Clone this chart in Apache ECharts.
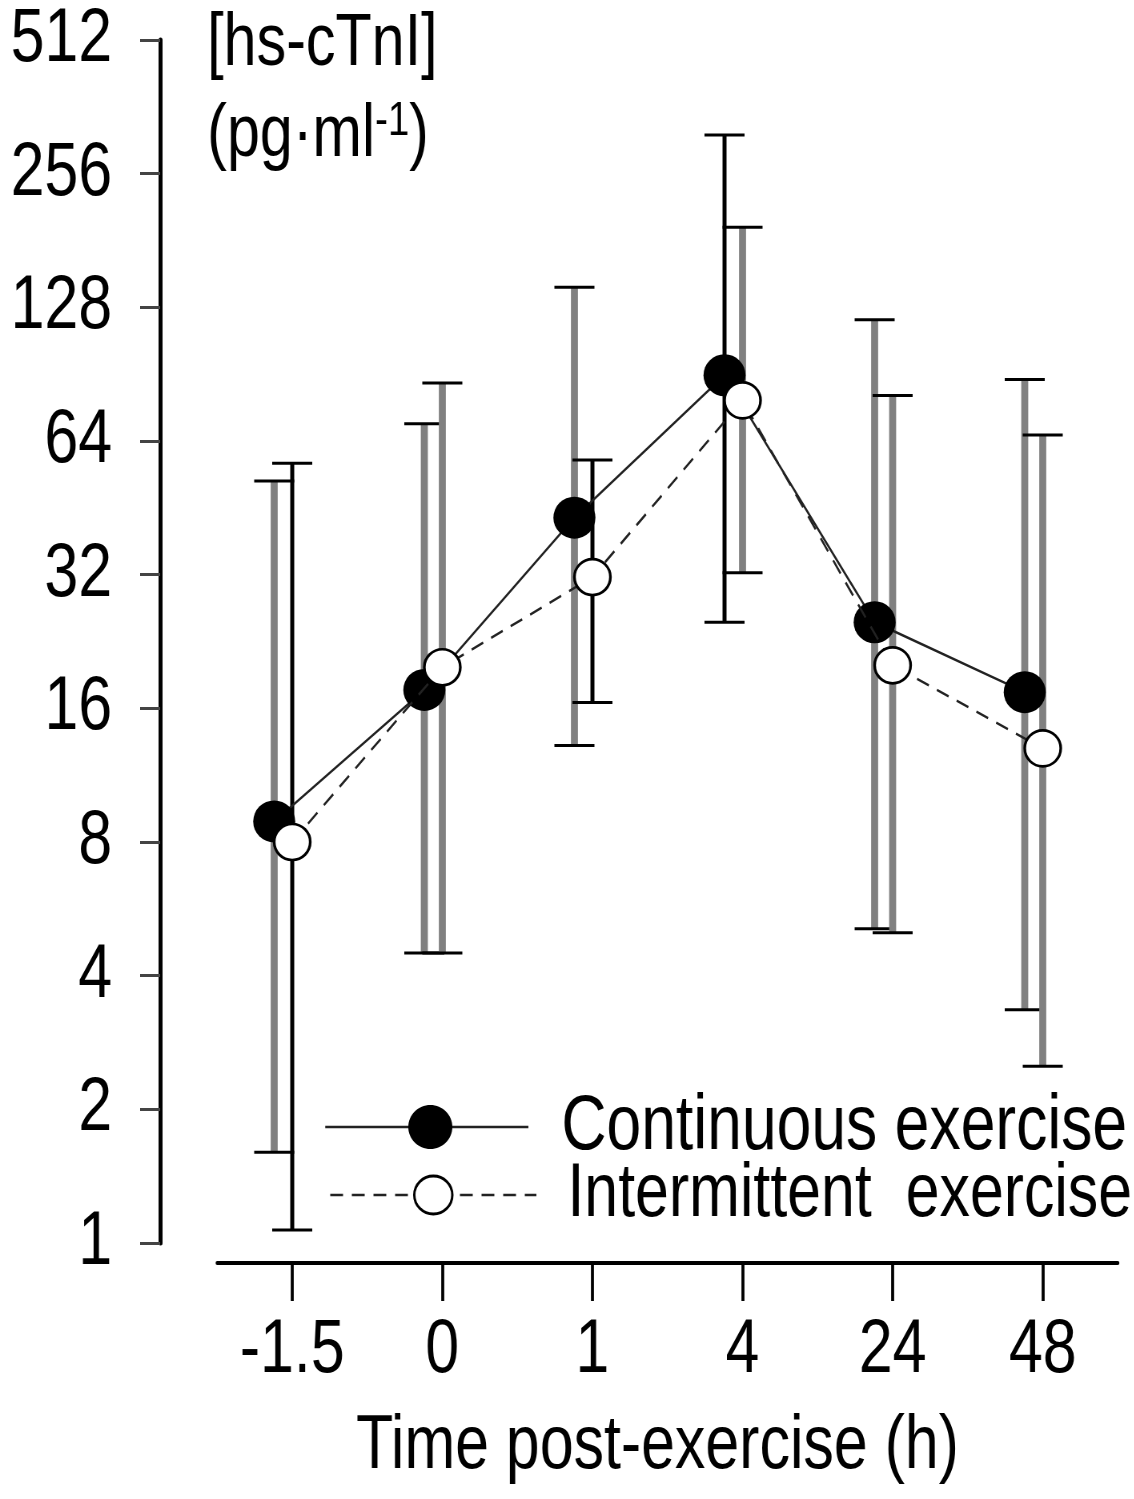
<!DOCTYPE html>
<html><head><meta charset="utf-8">
<script src="https://cdn.jsdelivr.net/npm/echarts@6/dist/echarts.min.js"></script>
<style>
html,body{margin:0;padding:0;background:#fff;overflow:hidden;width:1134px;height:1499px}
#c{height:1499px;transform-origin:0 0}
</style>
</head><body><div id="c"></div>
<script>
// ---- data ----
const categories = ['-1.5', '0', '1', '4', '24', '48'];
const contMean  = [8.9, 17.6, 43, 90, 25, 17.4];
const contUpper = [52, 70, 142, 313, 120, 88];
const contLower = [1.6, 4.5, 13.2, 25, 5.1, 3.35];
const intMean   = [8.0, 19.8, 31.6, 79, 20, 13];
const intUpper  = [57, 86.5, 58, 194, 81, 66];
const intLower  = [1.07, 4.5, 16.5, 32.3, 5.0, 2.5];
const seriesNames = ['Continuous exercise', 'Intermittent  exercise'];
const xTitle = 'Time post-exercise (h)';
// ---- styles ----
const GRAY = '#808080', BLACK = '#000';
const contBarColors = [GRAY, GRAY, GRAY, BLACK, GRAY, GRAY];
const intBarColors  = [BLACK, GRAY, BLACK, GRAY, GRAY, GRAY];

// The reference uses a condensed sans face; the whole canvas is drawn wider
// and squeezed horizontally so Liberation Sans looks condensed.
const SX = 0.8;
const FONT = '"Liberation Sans", Arial, sans-serif';
const FS = 76;
const W = 1134 / SX, H = 1499;
const X = v => v / SX; // final horizontal px -> drawing px

const el = document.getElementById('c');
el.style.width = W + 'px';
el.style.transform = 'scaleX(' + SX + ')';

const GRID = { left: X(217), right: X(17), top: 40, bottom: 256 };
const bandPx = (W - GRID.left - GRID.right) / categories.length;
const dodge = X(18) / bandPx; // continuous series drawn slightly left

function errRender(colors) {
  return function (params, api) {
    const i = api.value(0);
    const lo = api.coord([i, api.value(1)]);
    const hi = api.coord([i, api.value(2)]);
    const col = colors[params.dataIndex];
    const w = X(col === BLACK ? 4 : 7);
    const cap = X(20);
    return {
      type: 'group', children: [
        { type: 'line', shape: { x1: lo[0], y1: lo[1], x2: hi[0], y2: hi[1] }, style: { stroke: col, lineWidth: w } },
        { type: 'line', shape: { x1: hi[0] - cap, y1: hi[1], x2: hi[0] + cap, y2: hi[1] }, style: { stroke: BLACK, lineWidth: 3 } },
        { type: 'line', shape: { x1: lo[0] - cap, y1: lo[1], x2: lo[0] + cap, y2: lo[1] }, style: { stroke: BLACK, lineWidth: 3 } }
      ]
    };
  };
}

const DASH = [16, 11];
const legendRows = [
  { y: 1127, x1: 325, x2: 528, cx: 430, fill: BLACK, r: 22, border: 0, dash: null, tx: 561, fs: 78 },
  { y: 1195, x1: 330, x2: 536, cx: 433, fill: '#fff', r: 19, border: 3, dash: DASH, tx: 567, fs: 76 }
];
const legendGraphics = [];
legendRows.forEach((row, k) => {
  legendGraphics.push({ type: 'line', z: 10,
    shape: { x1: X(row.x1), y1: row.y, x2: X(row.x2), y2: row.y },
    style: { stroke: '#222', lineWidth: 2.5, lineDash: row.dash } });
  legendGraphics.push({ type: 'ellipse', z: 11,
    shape: { cx: X(row.cx), cy: row.y, rx: X(row.r), ry: row.r },
    style: { fill: row.fill, stroke: BLACK, lineWidth: row.border } });
  legendGraphics.push({ type: 'text', z: 11, x: X(row.tx), y: row.y,
    style: { text: seriesNames[k], fontSize: row.fs, fontFamily: FONT, fill: BLACK, verticalAlign: 'middle', align: 'left' } });
});

const chart = echarts.init(el, null, { renderer: 'canvas', width: W, height: H });
chart.setOption({
  animation: false,
  backgroundColor: '#fff',
  grid: GRID,
  xAxis: [{
    type: 'category', data: categories, boundaryGap: true, offset: 20,
    name: xTitle, nameLocation: 'middle', nameGap: 146,
    nameTextStyle: { fontSize: FS, fontFamily: FONT, color: BLACK, padding: [0, X(20), 0, 0] },
    axisLine: { show: true, onZero: false, lineStyle: { color: BLACK, width: 4 } },
    axisTick: { show: true, alignWithLabel: true, length: 38, lineStyle: { color: BLACK, width: X(3) } },
    axisLabel: { margin: 50, fontSize: FS, fontFamily: FONT, color: BLACK },
    splitLine: { show: false }
  }, {
    type: 'value', show: false, min: -0.5 + dodge, max: categories.length - 0.5 + dodge
  }],
  yAxis: {
    type: 'log', logBase: 2, min: 1, max: 512, splitNumber: 9, offset: X(57),
    axisLine: { show: true, onZero: false, lineStyle: { color: BLACK, width: X(4) } },
    axisTick: { show: true, length: X(20), lineStyle: { color: '#444', width: 3 } },
    axisLabel: { margin: X(48), fontSize: FS, fontFamily: FONT, color: BLACK },
    splitLine: { show: false }, minorTick: { show: false }
  },
  graphic: [
    { type: 'text', x: X(207), y: 45, style: { text: '[hs-cTnI]', fontSize: FS - 2, fontFamily: FONT, fill: BLACK, verticalAlign: 'middle', align: 'left' } },
    { type: 'text', x: X(207), y: 136, style: {
        text: '{a|(pg·ml}{s|-1}{a|)}', verticalAlign: 'middle', align: 'left', fill: BLACK,
        rich: {
          a: { fontSize: FS - 2, fontFamily: FONT, fill: BLACK, lineHeight: FS },
          s: { fontSize: 48, fontFamily: FONT, fill: BLACK, verticalAlign: 'top', lineHeight: 48 }
        } } }
  ].concat(legendGraphics),
  series: [
    { type: 'custom', name: 'errCont', xAxisIndex: 1, z: 1, silent: true,
      data: contLower.map((l, i) => [i, l, contUpper[i]]), renderItem: errRender(contBarColors) },
    { type: 'custom', name: 'errInt', xAxisIndex: 0, z: 1, silent: true,
      data: intLower.map((l, i) => [i, l, intUpper[i]]), renderItem: errRender(intBarColors) },
    { type: 'line', name: seriesNames[0], xAxisIndex: 1, z: 3,
      data: contMean.map((v, i) => [i, v]),
      symbol: 'circle', symbolSize: [X(42), 42],
      itemStyle: { color: BLACK, borderWidth: 0 },
      lineStyle: { color: '#222', width: 2.5, type: 'solid' } },
    { type: 'line', name: seriesNames[1], xAxisIndex: 0, z: 4,
      data: intMean,
      symbol: 'circle', symbolSize: [X(36), 36],
      itemStyle: { color: '#fff', borderColor: BLACK, borderWidth: 3 },
      lineStyle: { color: '#222', width: 2.5, type: DASH } }
  ]
});
</script>
</body></html>
